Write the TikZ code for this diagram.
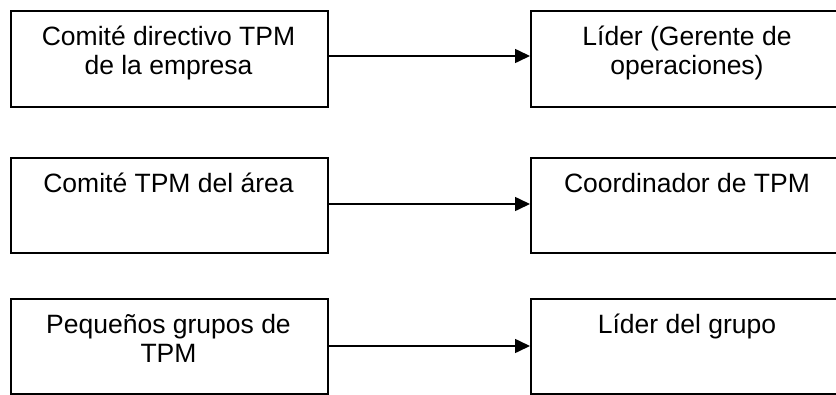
\documentclass[tikz,border=0pt]{standalone}
\usepackage{fontspec}
\setmainfont{Liberation Sans}
\usetikzlibrary{arrows.meta}
\begin{document}
\begin{tikzpicture}[x=1pt,y=-1pt,
  box/.style={draw=black,line width=1.6pt,fill=white,rectangle,inner sep=0pt,anchor=north west},
  lbl/.style={anchor=base,inner sep=0pt,align=center,font=\fontsize{26.5}{29}\selectfont},
  link/.style={draw=black,line width=1.6pt,-{Triangle[length=15pt,width=14pt]}}]
\useasboundingbox (0,0) rectangle (836,394);
\clip (0,0) rectangle (836,394);
% left column
\node[box,minimum width=317pt,minimum height=96pt] (a1) at (10,10) {};
\node[box,minimum width=317pt,minimum height=95pt] (a2) at (10,157) {};
\node[box,minimum width=317pt,minimum height=95pt] (a3) at (10,298) {};
% right column (runs past the page edge)
\node[box,minimum width=315pt,minimum height=96pt] (b1) at (530,10) {};
\node[box,minimum width=315pt,minimum height=95pt] (b2) at (530,157) {};
\node[box,minimum width=315pt,minimum height=95pt] (b3) at (530,298) {};
% labels (base anchor sits on the last line)
\node[lbl] (ta1) at (168.5,74) {Comité directivo TPM\\de la empresa};
\node[lbl] (ta2) at (168.5,192) {Comité TPM del área};
\node[lbl] (ta3) at (168.5,362) {Pequeños grupos de\\TPM};
\node[lbl] (tb1) at (687,74) {Líder (Gerente de\\operaciones)};
\node[lbl] (tb2) at (687,192) {Coordinador de TPM};
\node[lbl] (tb3) at (687,333) {Líder del grupo};
% connectors
\draw[link] (a1.east |- 0,56) -- (b1.west |- 0,56);
\draw[link] (a2.east |- 0,204) -- (b2.west |- 0,204);
\draw[link] (a3.east |- 0,346) -- (b3.west |- 0,346);
\end{tikzpicture}
\end{document}
